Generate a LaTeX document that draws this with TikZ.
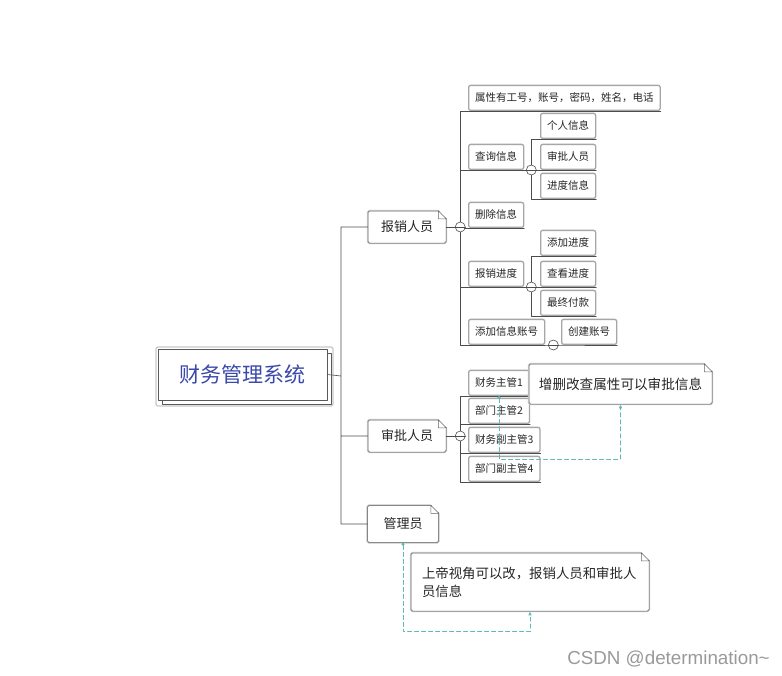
\documentclass[tikz,border=0pt]{standalone}
\usepackage{fontspec}
\newfontfamily\cjk{Noto Sans CJK SC}
\newfontfamily\wmfont{Liberation Sans}
\usetikzlibrary{arrows.meta}
\definecolor{rootblue}{RGB}{58,72,170}
\definecolor{memoteal}{RGB}{94,186,178}
% folded top right corner of a topic
\newcommand\dogear[1]{%
  \fill[white] ([xshift=-9pt,yshift=2pt]#1.north east) -- ([xshift=2pt,yshift=2pt]#1.north east) -- ([xshift=2pt,yshift=-9pt]#1.north east) -- cycle;
  \draw[black!60, line width=0.5pt] ([xshift=-8pt]#1.north east) |- ([yshift=-8pt]#1.north east) -- cycle;}
\tikzset{
  topic/.style={draw=black!65, line width=0.5pt, fill=white, rounded corners=1.5pt,
    preaction={draw=black!22, line width=2.4pt}, inner sep=0pt, text=black!85,
    font=\cjk\fontsize{13}{15}\selectfont},
  leaf/.style={draw=black!35, line width=1.3pt, fill=white, rounded corners=2pt,
    minimum height=25pt, inner xsep=6.5pt, inner ysep=0pt, anchor=south west,
    text=black!85, font=\cjk\fontsize{10.5}{12}\selectfont},
  knob/.style={circle, draw=black!70, line width=0.6pt, fill=white, minimum size=10pt, inner sep=0pt},
  link/.style={black!70, line width=0.6pt},
  memo/.style={memoteal, line width=0.9pt, dash pattern=on 4pt off 3pt,
    {Circle[length=3pt]}-{Latex[length=4pt,width=3.5pt]}}
}
\begin{document}
\begin{tikzpicture}[x=1pt, y=-1pt, line join=round, line cap=round]
\useasboundingbox (0,0) rectangle (782,675);
% root
\draw[black!22, line width=1.2pt, rounded corners=2pt] (156,347) rectangle (333,406);
\draw[black!65, line width=0.5pt, fill=white] (162,353) rectangle (331,404);
\node[draw=black!65, line width=0.5pt, fill=white, minimum width=169pt, minimum height=51pt,
  font=\cjk\fontsize{21}{24}\selectfont, text=rootblue] (root) at (242.5,374.5) {财务管理系统};
% main topics
\node[topic, minimum width=78pt, minimum height=32pt] (bx) at (407,227) {报销人员};
\node[topic, minimum width=78pt, minimum height=32pt] (sp) at (407,436) {审批人员};
\node[topic, minimum width=71pt, minimum height=37pt] (gly) at (403,524) {管理员};
\dogear{bx} \dogear{sp} \dogear{gly}
% leaves of 报销人员
\node[leaf] (sx) at (468,111) {属性有工号，账号，密码，姓名，电话};
\node[leaf] (cx) at (468,170) {查询信息};
\node[leaf] (gr) at (540,139) {个人信息};
\node[leaf] (spry) at (540,170) {审批人员};
\node[leaf] (jd) at (540,199) {进度信息};
\node[leaf] (sc) at (468,228) {删除信息};
\node[leaf] (bxjd) at (468,287) {报销进度};
\node[leaf] (tjjd) at (540,256) {添加进度};
\node[leaf] (ckjd) at (540,287) {查看进度};
\node[leaf] (zzfk) at (540,316) {最终付款};
\node[leaf] (tjzh) at (468,345) {添加信息账号};
\node[leaf] (cjzh) at (561,345) {创建账号};
% leaves of 审批人员
\node[leaf] (zg1) at (468,396) {财务主管1};
\node[leaf] (zg2) at (468,424) {部门主管2};
\node[leaf] (fz3) at (468,453) {财务副主管3};
\node[leaf] (fz4) at (468,482) {部门副主管4};
% connectors
\coordinate (trunk) at (341,376);
\draw[link] (root.east) -- (trunk) (trunk) |- (bx.west) (trunk) |- (sp.west) (trunk) |- (gly.west);
\coordinate (c1) at ([xshift=14pt]bx.east);
\coordinate (c2) at ([xshift=7pt]cx.south east);
\coordinate (c3) at ([xshift=7pt]bxjd.south east);
\coordinate (c4) at ([xshift=8pt]tjzh.south east);
\coordinate (c5) at ([xshift=14pt]sp.east);
\draw[link] (bx.east) -- (c1) \foreach \n in {sx,cx,sc,bxjd,tjzh}{(c1) |- (\n.south east)};
\draw[link] (cx.south east) -- (c2) \foreach \n in {gr,spry,jd}{(c2) |- (\n.south east)};
\draw[link] (bxjd.south east) -- (c3) \foreach \n in {tjjd,ckjd,zzfk}{(c3) |- (\n.south east)};
\draw[link] (tjzh.south east) -- (c4) |- (cjzh.south east);
\draw[link] (sp.east) -- (c5) \foreach \n in {zg1,zg2,fz3,fz4}{(c5) |- (\n.south east)};
\foreach \k in {c1,c2,c3,c4,c5}{
  \node[knob] (k-\k) at (\k) {};
  \draw[link] (k-\k.west) -- (k-\k.east);
}
% notes
\node[topic, minimum width=183pt, minimum height=40pt, font=\cjk\fontsize{13.6}{16}\selectfont] (memoa) at (620.5,384) {增删改查属性可以审批信息};
\node[topic, minimum width=238pt, minimum height=58pt, text width=216pt, align=left,
  font=\cjk\fontsize{13.4}{18}\selectfont] (memob) at (530,582) {上帝视角可以改，报销人员和审批人\\员信息};
\dogear{memoa} \dogear{memob}
\draw[memo] (zg1.south) -- ++(0,63) -| (memoa.south);
\draw[memo] (gly.south) -- ++(0,89) -| (memob.south);
% watermark
\node[text=black!40, font=\wmfont\fontsize{18.8}{22}\selectfont] (wm) at (668.5,659) {CSDN @determination\textasciitilde};
\end{tikzpicture}
\end{document}
